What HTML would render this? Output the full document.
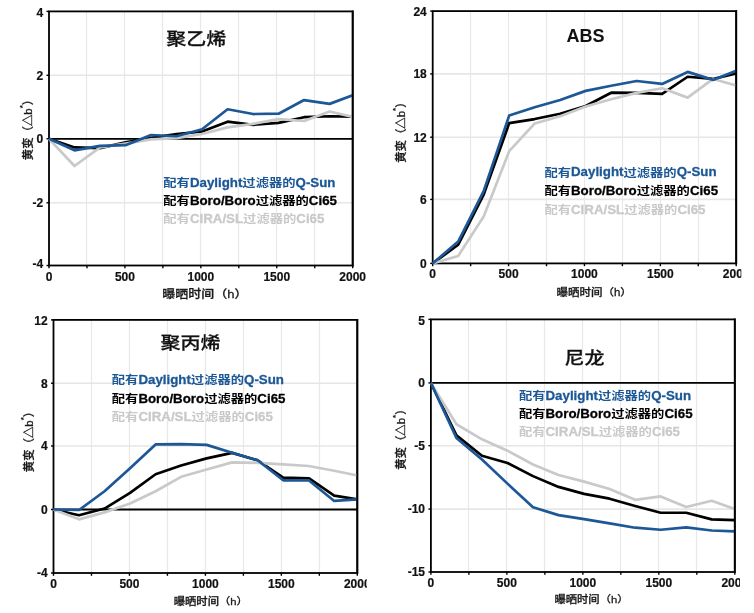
<!DOCTYPE html>
<html><head><meta charset="utf-8"><title>黄变对比图</title>
<style>
html,body{margin:0;padding:0;background:#fff;}
body{width:754px;height:613px;overflow:hidden;position:relative;}
svg{display:block;position:absolute;left:0;top:0;}
.tk{font-family:"Liberation Sans", Arial, sans-serif;font-weight:bold;font-size:12px;fill:#111111;stroke:#111;stroke-width:0.2px;}
.lg{font-family:"Liberation Sans", Arial, sans-serif;font-weight:bold;font-size:13.3px;stroke-width:0.3px;}
.lc{font-family:"Liberation Sans", "Noto Sans CJK SC", sans-serif;font-weight:bold;font-size:13.3px;}
.ti{font-family:"Liberation Sans", "Noto Sans CJK SC", sans-serif;font-size:20px;font-weight:500;fill:#111111;stroke:#111;stroke-width:0.3px;}
.ab{font-family:"Liberation Sans", Arial, sans-serif;font-weight:bold;font-size:18px;fill:#111111;}
.yt{font-family:"Liberation Sans", "Noto Sans CJK SC", sans-serif;font-size:11.4px;font-weight:500;fill:#1a1a1a;stroke:#1a1a1a;stroke-width:0.3px;}
.xt{font-family:"Liberation Sans", "Noto Sans CJK SC", sans-serif;font-weight:500;fill:#1a1a1a;stroke:#1a1a1a;stroke-width:0.3px;}
</style></head><body>
<svg width="754" height="613" viewBox="0 0 754 613">
<rect x="0" y="0" width="754" height="613" fill="#fff"/>
<g stroke="#e8e8e8" stroke-width="1.2"><line x1="86.5" y1="11.4" x2="86.5" y2="265.5"/><line x1="124.5" y1="11.4" x2="124.5" y2="265.5"/><line x1="162.5" y1="11.4" x2="162.5" y2="265.5"/><line x1="200.5" y1="11.4" x2="200.5" y2="265.5"/><line x1="238.5" y1="11.4" x2="238.5" y2="265.5"/><line x1="276.5" y1="11.4" x2="276.5" y2="265.5"/><line x1="314.5" y1="11.4" x2="314.5" y2="265.5"/></g>
<g stroke="#e6e6e6" stroke-width="1.6"><line x1="49" y1="202.8" x2="352.7" y2="202.8"/><line x1="49" y1="138.8" x2="352.7" y2="138.8"/><line x1="49" y1="75.3" x2="352.7" y2="75.3"/></g>
<line x1="49" y1="138.8" x2="352.7" y2="138.8" stroke="#000" stroke-width="1.8"/>
<g stroke="#000" stroke-width="1.4"><line x1="49" y1="265.5" x2="49" y2="268.3"/><line x1="86.96" y1="265.5" x2="86.96" y2="268.3"/><line x1="124.92" y1="265.5" x2="124.92" y2="268.3"/><line x1="162.89" y1="265.5" x2="162.89" y2="268.3"/><line x1="200.85" y1="265.5" x2="200.85" y2="268.3"/><line x1="238.81" y1="265.5" x2="238.81" y2="268.3"/><line x1="276.77" y1="265.5" x2="276.77" y2="268.3"/><line x1="314.74" y1="265.5" x2="314.74" y2="268.3"/><line x1="352.7" y1="265.5" x2="352.7" y2="268.3"/><line x1="46.5" y1="265.5" x2="49" y2="265.5"/><line x1="46.5" y1="202.8" x2="49" y2="202.8"/><line x1="46.5" y1="138.8" x2="49" y2="138.8"/><line x1="46.5" y1="75.3" x2="49" y2="75.3"/><line x1="46.5" y1="11.4" x2="49" y2="11.4"/></g>
<rect x="49" y="11.4" width="303.7" height="254.1" fill="none" stroke="#000" stroke-width="1.8"/>
<polyline points="49,138.8 74.51,147.44 100.02,148.08 125.53,142.32 151.04,137.85 176.55,134.04 202.06,131.5 227.58,121.66 253.09,124.83 278.6,122.93 304.11,117.21 329.62,116.26 352.7,116.58" fill="none" stroke="#000000" stroke-width="2.7" stroke-linejoin="round"/>
<polyline points="49,138.8 74.51,166 100.02,147.44 125.53,143.6 151.04,139.44 176.55,138.17 202.06,134.04 227.58,127.37 253.09,123.88 278.6,119.12 304.11,121.02 329.62,111.5 352.7,116.89" fill="none" stroke="#c9c9c9" stroke-width="2.7" stroke-linejoin="round"/>
<polyline points="49,138.8 74.51,150.32 100.02,145.84 125.53,145.2 151.04,134.99 176.55,136.26 202.06,129.28 227.58,109.27 253.09,114.03 278.6,113.72 304.11,100.06 329.62,103.88 352.7,95.3" fill="none" stroke="#1c5796" stroke-width="2.7" stroke-linejoin="round"/>
<line x1="352.7" y1="10.5" x2="352.7" y2="266.4" stroke="#000" stroke-width="1.8"/>
<text class="tk" x="43.1" y="267.6" text-anchor="end">-4</text>
<text class="tk" x="43.1" y="207.1" text-anchor="end">-2</text>
<text class="tk" x="43.1" y="143.1" text-anchor="end">0</text>
<text class="tk" x="43.1" y="79.6" text-anchor="end">2</text>
<text class="tk" x="43.1" y="16.5" text-anchor="end">4</text>
<text class="tk" x="49" y="281" text-anchor="middle">0</text>
<text class="tk" x="124.92" y="281" text-anchor="middle">500</text>
<text class="tk" x="200.85" y="281" text-anchor="middle">1000</text>
<text class="tk" x="276.77" y="281" text-anchor="middle">1500</text>
<text class="tk" x="352.7" y="281" text-anchor="middle">2000</text>
<text class="ti" transform="translate(196.3,45.4) scale(1,0.87)" x="0" y="0" text-anchor="middle">聚乙烯</text>
<text class="lc" fill="#1c5796" transform="translate(163.3,187.3) scale(1,0.84)">配有</text>
<text class="lg" fill="#1c5796" stroke="#1c5796" x="189.9" y="187">Daylight</text>
<text class="lc" fill="#1c5796" transform="translate(242.37,187.3) scale(1,0.84)">过滤器的</text>
<text class="lg" fill="#1c5796" stroke="#1c5796" x="295.57" y="187">Q-Sun</text>
<text class="lc" fill="#000" transform="translate(163.3,205.3) scale(1,0.84)">配有</text>
<text class="lg" fill="#000" stroke="#000" x="189.9" y="205">Boro/Boro</text>
<text class="lc" fill="#000" transform="translate(255.65,205.3) scale(1,0.84)">过滤器的</text>
<text class="lg" fill="#000" stroke="#000" x="308.85" y="205">Ci65</text>
<text class="lc" fill="#c9c9c9" transform="translate(163.3,223.3) scale(1,0.84)">配有</text>
<text class="lg" fill="#c9c9c9" stroke="#c9c9c9" x="189.9" y="223">CIRA/SL</text>
<text class="lc" fill="#c9c9c9" transform="translate(243.1,223.3) scale(1,0.84)">过滤器的</text>
<text class="lg" fill="#c9c9c9" stroke="#c9c9c9" x="296.3" y="223">Ci65</text>
<text class="yt" transform="translate(31.5,127) rotate(-90)" text-anchor="middle">黄变（△b<tspan font-size="8" dy="-7">*</tspan><tspan dy="7">）</tspan></text>
<text class="xt" transform="translate(162.3,297.6) scale(1,0.87)" font-size="13">曝晒时间（h）</text>
<g stroke="#e8e8e8" stroke-width="1.2"><line x1="470.5" y1="11.1" x2="470.5" y2="263.4"/><line x1="508.5" y1="11.1" x2="508.5" y2="263.4"/><line x1="546.5" y1="11.1" x2="546.5" y2="263.4"/><line x1="584.5" y1="11.1" x2="584.5" y2="263.4"/><line x1="622.5" y1="11.1" x2="622.5" y2="263.4"/><line x1="660.5" y1="11.1" x2="660.5" y2="263.4"/><line x1="698.5" y1="11.1" x2="698.5" y2="263.4"/></g>
<g stroke="#e6e6e6" stroke-width="1.6"><line x1="432.7" y1="199.4" x2="736.2" y2="199.4"/><line x1="432.7" y1="137.2" x2="736.2" y2="137.2"/><line x1="432.7" y1="73.9" x2="736.2" y2="73.9"/></g>
<g stroke="#000" stroke-width="1.4"><line x1="432.7" y1="263.4" x2="432.7" y2="266.2"/><line x1="470.64" y1="263.4" x2="470.64" y2="266.2"/><line x1="508.57" y1="263.4" x2="508.57" y2="266.2"/><line x1="546.51" y1="263.4" x2="546.51" y2="266.2"/><line x1="584.45" y1="263.4" x2="584.45" y2="266.2"/><line x1="622.39" y1="263.4" x2="622.39" y2="266.2"/><line x1="660.33" y1="263.4" x2="660.33" y2="266.2"/><line x1="698.26" y1="263.4" x2="698.26" y2="266.2"/><line x1="736.2" y1="263.4" x2="736.2" y2="266.2"/><line x1="430.2" y1="263.4" x2="432.7" y2="263.4"/><line x1="430.2" y1="199.4" x2="432.7" y2="199.4"/><line x1="430.2" y1="137.2" x2="432.7" y2="137.2"/><line x1="430.2" y1="73.9" x2="432.7" y2="73.9"/><line x1="430.2" y1="11.1" x2="432.7" y2="11.1"/></g>
<rect x="432.7" y="11.1" width="303.5" height="252.3" fill="none" stroke="#000" stroke-width="1.8"/>
<polyline points="432.7,263.4 458.19,244.73 483.69,194.63 509.18,123.17 534.68,119.05 560.17,113.78 585.66,105.97 611.16,92.68 636.65,92.89 662.15,93.94 687.64,76.75 713.13,78.96 736.2,73.38" fill="none" stroke="#000000" stroke-width="2.7" stroke-linejoin="round"/>
<polyline points="432.7,263.4 458.19,255.93 483.69,216.47 509.18,151.19 534.68,123.48 560.17,116.31 585.66,106.5 611.16,99.22 636.65,92.89 662.15,88.25 687.64,97.64 713.13,78.96 736.2,85.51" fill="none" stroke="#c9c9c9" stroke-width="2.7" stroke-linejoin="round"/>
<polyline points="432.7,263.4 458.19,241.53 483.69,191.11 509.18,115.57 534.68,107.24 560.17,99.96 585.66,90.89 611.16,85.72 636.65,80.97 662.15,83.92 687.64,71.91 713.13,79.91 736.2,70.66" fill="none" stroke="#1c5796" stroke-width="2.7" stroke-linejoin="round"/>
<line x1="736.2" y1="10.2" x2="736.2" y2="264.3" stroke="#000" stroke-width="1.8"/>
<text class="tk" x="426.8" y="267.7" text-anchor="end">0</text>
<text class="tk" x="426.8" y="203.7" text-anchor="end">6</text>
<text class="tk" x="426.8" y="141.5" text-anchor="end">12</text>
<text class="tk" x="426.8" y="78.2" text-anchor="end">18</text>
<text class="tk" x="426.8" y="16.15" text-anchor="end">24</text>
<text class="tk" x="432.7" y="278" text-anchor="middle">0</text>
<text class="tk" x="508.57" y="278" text-anchor="middle">500</text>
<text class="tk" x="584.45" y="278" text-anchor="middle">1000</text>
<text class="tk" x="660.33" y="278" text-anchor="middle">1500</text>
<text class="tk" x="736.2" y="278" text-anchor="middle" clip-path="url(#c1)">2000</text>
<text class="ab" x="585.5" y="41.9" text-anchor="middle">ABS</text>
<text class="lc" fill="#1c5796" transform="translate(544.4,176.7) scale(1,0.84)">配有</text>
<text class="lg" fill="#1c5796" stroke="#1c5796" x="571" y="176.4">Daylight</text>
<text class="lc" fill="#1c5796" transform="translate(623.47,176.7) scale(1,0.84)">过滤器的</text>
<text class="lg" fill="#1c5796" stroke="#1c5796" x="676.67" y="176.4">Q-Sun</text>
<text class="lc" fill="#000" transform="translate(544.4,195.3) scale(1,0.84)">配有</text>
<text class="lg" fill="#000" stroke="#000" x="571" y="195">Boro/Boro</text>
<text class="lc" fill="#000" transform="translate(636.75,195.3) scale(1,0.84)">过滤器的</text>
<text class="lg" fill="#000" stroke="#000" x="689.95" y="195">Ci65</text>
<text class="lc" fill="#c9c9c9" transform="translate(544.4,213.9) scale(1,0.84)">配有</text>
<text class="lg" fill="#c9c9c9" stroke="#c9c9c9" x="571" y="213.6">CIRA/SL</text>
<text class="lc" fill="#c9c9c9" transform="translate(624.2,213.9) scale(1,0.84)">过滤器的</text>
<text class="lg" fill="#c9c9c9" stroke="#c9c9c9" x="677.4" y="213.6">Ci65</text>
<text class="yt" transform="translate(405,129.6) rotate(-90)" text-anchor="middle">黄变（△b<tspan font-size="8" dy="-7">*</tspan><tspan dy="7">）</tspan></text>
<text class="xt" transform="translate(556.5,295.5) scale(1,0.87)" font-size="11.5">曝晒时间（h）</text>
<g stroke="#e8e8e8" stroke-width="1.2"><line x1="91.5" y1="319.9" x2="91.5" y2="573"/><line x1="129.5" y1="319.9" x2="129.5" y2="573"/><line x1="167.5" y1="319.9" x2="167.5" y2="573"/><line x1="205.5" y1="319.9" x2="205.5" y2="573"/><line x1="243.5" y1="319.9" x2="243.5" y2="573"/><line x1="281.5" y1="319.9" x2="281.5" y2="573"/><line x1="319.5" y1="319.9" x2="319.5" y2="573"/></g>
<g stroke="#e6e6e6" stroke-width="1.6"><line x1="53.5" y1="509.5" x2="357.3" y2="509.5"/><line x1="53.5" y1="446" x2="357.3" y2="446"/><line x1="53.5" y1="383.2" x2="357.3" y2="383.2"/></g>
<line x1="53.5" y1="509.5" x2="357.3" y2="509.5" stroke="#000" stroke-width="1.8"/>
<g stroke="#000" stroke-width="1.4"><line x1="53.5" y1="573" x2="53.5" y2="575.8"/><line x1="91.47" y1="573" x2="91.47" y2="575.8"/><line x1="129.45" y1="573" x2="129.45" y2="575.8"/><line x1="167.43" y1="573" x2="167.43" y2="575.8"/><line x1="205.4" y1="573" x2="205.4" y2="575.8"/><line x1="243.38" y1="573" x2="243.38" y2="575.8"/><line x1="281.35" y1="573" x2="281.35" y2="575.8"/><line x1="319.32" y1="573" x2="319.32" y2="575.8"/><line x1="357.3" y1="573" x2="357.3" y2="575.8"/><line x1="51" y1="573" x2="53.5" y2="573"/><line x1="51" y1="509.5" x2="53.5" y2="509.5"/><line x1="51" y1="446" x2="53.5" y2="446"/><line x1="51" y1="383.2" x2="53.5" y2="383.2"/><line x1="51" y1="319.9" x2="53.5" y2="319.9"/></g>
<rect x="53.5" y="319.9" width="303.8" height="253.1" fill="none" stroke="#000" stroke-width="1.8"/>
<polyline points="53.5,509.5 79.02,515.22 104.54,508.55 130.06,492.83 155.58,474.26 181.1,465.53 206.62,458.38 232.13,452.83 257.65,460.29 283.17,477.59 308.69,478.23 334.21,495.69 357.3,499.34" fill="none" stroke="#000000" stroke-width="2.7" stroke-linejoin="round"/>
<polyline points="53.5,509.5 79.02,519.34 104.54,512.36 130.06,503.47 155.58,491.24 181.1,476.8 206.62,469.5 232.13,462.35 257.65,462.83 283.17,464.42 308.69,466 334.21,470.76 357.3,475.53" fill="none" stroke="#c9c9c9" stroke-width="2.7" stroke-linejoin="round"/>
<polyline points="53.5,509.5 79.02,509.98 104.54,491.24 130.06,468.23 155.58,444.43 181.1,444.12 206.62,444.9 232.13,452.83 257.65,460.29 283.17,480.29 308.69,480.29 334.21,500.93 357.3,499.34" fill="none" stroke="#1c5796" stroke-width="2.7" stroke-linejoin="round"/>
<line x1="357.3" y1="319" x2="357.3" y2="573.9" stroke="#000" stroke-width="1.8"/>
<text class="tk" x="47.6" y="577.3" text-anchor="end">-4</text>
<text class="tk" x="47.6" y="513.8" text-anchor="end">0</text>
<text class="tk" x="47.6" y="450.3" text-anchor="end">4</text>
<text class="tk" x="47.6" y="387.5" text-anchor="end">8</text>
<text class="tk" x="47.6" y="324.55" text-anchor="end">12</text>
<text class="tk" x="53.5" y="587.8" text-anchor="middle">0</text>
<text class="tk" x="129.45" y="587.8" text-anchor="middle">500</text>
<text class="tk" x="205.4" y="587.8" text-anchor="middle">1000</text>
<text class="tk" x="281.35" y="587.8" text-anchor="middle">1500</text>
<text class="tk" x="357.3" y="587.8" text-anchor="middle" clip-path="url(#c2)">2000</text>
<text class="ti" transform="translate(190.6,348.7) scale(1,0.87)" x="0" y="0" text-anchor="middle">聚丙烯</text>
<text class="lc" fill="#1c5796" transform="translate(111.8,384.3) scale(1,0.84)">配有</text>
<text class="lg" fill="#1c5796" stroke="#1c5796" x="138.4" y="384">Daylight</text>
<text class="lc" fill="#1c5796" transform="translate(190.87,384.3) scale(1,0.84)">过滤器的</text>
<text class="lg" fill="#1c5796" stroke="#1c5796" x="244.07" y="384">Q-Sun</text>
<text class="lc" fill="#000" transform="translate(111.8,403) scale(1,0.84)">配有</text>
<text class="lg" fill="#000" stroke="#000" x="138.4" y="402.7">Boro/Boro</text>
<text class="lc" fill="#000" transform="translate(204.15,403) scale(1,0.84)">过滤器的</text>
<text class="lg" fill="#000" stroke="#000" x="257.35" y="402.7">Ci65</text>
<text class="lc" fill="#c9c9c9" transform="translate(111.8,421) scale(1,0.84)">配有</text>
<text class="lg" fill="#c9c9c9" stroke="#c9c9c9" x="138.4" y="420.7">CIRA/SL</text>
<text class="lc" fill="#c9c9c9" transform="translate(191.6,421) scale(1,0.84)">过滤器的</text>
<text class="lg" fill="#c9c9c9" stroke="#c9c9c9" x="244.8" y="420.7">Ci65</text>
<text class="yt" transform="translate(32.5,439) rotate(-90)" text-anchor="middle">黄变（△b<tspan font-size="8" dy="-7">*</tspan><tspan dy="7">）</tspan></text>
<text class="xt" transform="translate(173.8,605.2) scale(1,0.87)" font-size="11.3">曝晒时间（h）</text>
<g stroke="#e8e8e8" stroke-width="1.2"><line x1="468.5" y1="319.4" x2="468.5" y2="572"/><line x1="506.5" y1="319.4" x2="506.5" y2="572"/><line x1="544.5" y1="319.4" x2="544.5" y2="572"/><line x1="582.5" y1="319.4" x2="582.5" y2="572"/><line x1="620.5" y1="319.4" x2="620.5" y2="572"/><line x1="658.5" y1="319.4" x2="658.5" y2="572"/><line x1="696.5" y1="319.4" x2="696.5" y2="572"/></g>
<g stroke="#e6e6e6" stroke-width="1.6"><line x1="430.9" y1="509.1" x2="734.8" y2="509.1"/><line x1="430.9" y1="445.7" x2="734.8" y2="445.7"/><line x1="430.9" y1="382.9" x2="734.8" y2="382.9"/></g>
<line x1="430.9" y1="382.9" x2="734.8" y2="382.9" stroke="#000" stroke-width="1.8"/>
<g stroke="#000" stroke-width="1.4"><line x1="430.9" y1="572" x2="430.9" y2="574.8"/><line x1="468.89" y1="572" x2="468.89" y2="574.8"/><line x1="506.88" y1="572" x2="506.88" y2="574.8"/><line x1="544.86" y1="572" x2="544.86" y2="574.8"/><line x1="582.85" y1="572" x2="582.85" y2="574.8"/><line x1="620.84" y1="572" x2="620.84" y2="574.8"/><line x1="658.82" y1="572" x2="658.82" y2="574.8"/><line x1="696.81" y1="572" x2="696.81" y2="574.8"/><line x1="734.8" y1="572" x2="734.8" y2="574.8"/><line x1="428.4" y1="572" x2="430.9" y2="572"/><line x1="428.4" y1="509.1" x2="430.9" y2="509.1"/><line x1="428.4" y1="445.7" x2="430.9" y2="445.7"/><line x1="428.4" y1="382.9" x2="430.9" y2="382.9"/><line x1="428.4" y1="319.4" x2="430.9" y2="319.4"/></g>
<rect x="430.9" y="319.4" width="303.9" height="252.6" fill="none" stroke="#000" stroke-width="1.8"/>
<polyline points="430.9,382.9 456.43,435.4 481.96,455.72 507.48,462.94 533.01,476.13 558.54,486.91 584.07,493.88 609.59,498.7 635.12,505.93 660.65,512.75 686.18,512.75 711.7,519.42 734.8,520.17" fill="none" stroke="#000000" stroke-width="2.7" stroke-linejoin="round"/>
<polyline points="430.9,382.9 456.43,424.22 481.96,439.29 507.48,450.65 533.01,464.47 558.54,474.99 584.07,481.58 609.59,488.94 635.12,499.84 660.65,496.42 686.18,506.94 711.7,500.73 734.8,509.1" fill="none" stroke="#c9c9c9" stroke-width="2.7" stroke-linejoin="round"/>
<polyline points="430.9,382.9 456.43,438.04 481.96,459.52 507.48,483.61 533.01,507.2 558.54,515.14 584.07,519.16 609.59,523.32 635.12,527.72 660.65,529.73 686.18,527.34 711.7,530.49 734.8,531.37" fill="none" stroke="#1c5796" stroke-width="2.7" stroke-linejoin="round"/>
<line x1="734.8" y1="318.5" x2="734.8" y2="572.9" stroke="#000" stroke-width="1.8"/>
<text class="tk" x="425" y="576.3" text-anchor="end">-15</text>
<text class="tk" x="425" y="513.4" text-anchor="end">-10</text>
<text class="tk" x="425" y="450" text-anchor="end">-5</text>
<text class="tk" x="425" y="387.2" text-anchor="end">0</text>
<text class="tk" x="425" y="325.1" text-anchor="end">5</text>
<text class="tk" x="430.9" y="586.7" text-anchor="middle">0</text>
<text class="tk" x="506.88" y="586.7" text-anchor="middle">500</text>
<text class="tk" x="582.85" y="586.7" text-anchor="middle">1000</text>
<text class="tk" x="658.82" y="586.7" text-anchor="middle">1500</text>
<text class="tk" x="734.8" y="586.7" text-anchor="middle" clip-path="url(#c3)">2000</text>
<text class="ti" transform="translate(584.5,364.4) scale(1,0.87)" x="0" y="0" text-anchor="middle">尼龙</text>
<text class="lc" fill="#1c5796" transform="translate(518.9,400.3) scale(1,0.84)">配有</text>
<text class="lg" fill="#1c5796" stroke="#1c5796" x="545.5" y="400">Daylight</text>
<text class="lc" fill="#1c5796" transform="translate(597.97,400.3) scale(1,0.84)">过滤器的</text>
<text class="lg" fill="#1c5796" stroke="#1c5796" x="651.17" y="400">Q-Sun</text>
<text class="lc" fill="#000" transform="translate(518.9,418) scale(1,0.84)">配有</text>
<text class="lg" fill="#000" stroke="#000" x="545.5" y="417.7">Boro/Boro</text>
<text class="lc" fill="#000" transform="translate(611.25,418) scale(1,0.84)">过滤器的</text>
<text class="lg" fill="#000" stroke="#000" x="664.45" y="417.7">Ci65</text>
<text class="lc" fill="#c9c9c9" transform="translate(518.9,436.3) scale(1,0.84)">配有</text>
<text class="lg" fill="#c9c9c9" stroke="#c9c9c9" x="545.5" y="436">CIRA/SL</text>
<text class="lc" fill="#c9c9c9" transform="translate(598.7,436.3) scale(1,0.84)">过滤器的</text>
<text class="lg" fill="#c9c9c9" stroke="#c9c9c9" x="651.9" y="436">Ci65</text>
<text class="yt" transform="translate(405,436.6) rotate(-90)" text-anchor="middle">黄变（△b<tspan font-size="8" dy="-7">*</tspan><tspan dy="7">）</tspan></text>
<text class="xt" transform="translate(554.5,603) scale(1,0.87)" font-size="11.3">曝晒时间（h）</text>
<defs><clipPath id="c1"><rect x="0" y="0" width="741.3" height="613"/></clipPath><clipPath id="c2"><rect x="0" y="0" width="366.8" height="613"/></clipPath><clipPath id="c3"><rect x="0" y="0" width="739.9" height="613"/></clipPath></defs>
</svg>
</body></html>
